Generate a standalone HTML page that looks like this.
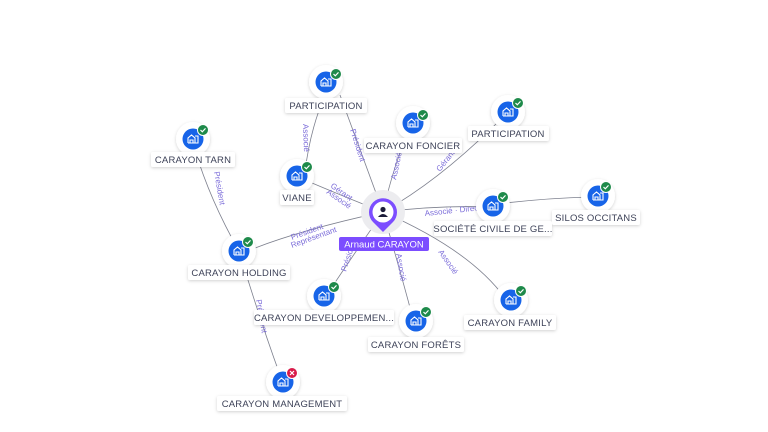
<!DOCTYPE html>
<html><head><meta charset="utf-8"><style>
html,body{margin:0;padding:0;background:#fff;width:768px;height:432px;overflow:hidden}
svg{font-family:"Liberation Sans",sans-serif}
.lbl{font-size:9.5px;fill:#3d4258;letter-spacing:0.2px}
.el{font-size:8px;fill:#7b6cd9}
</style></head><body>
<svg width="768" height="432" viewBox="0 0 768 432" xmlns="http://www.w3.org/2000/svg">
<defs>
<filter id="sh" x="-50%" y="-50%" width="200%" height="200%"><feDropShadow dx="0" dy="1" stdDeviation="1.5" flood-color="#000" flood-opacity="0.18"/></filter>
<g id="node">
<circle r="17" fill="#fff" filter="url(#sh)"/>
<circle r="10.5" fill="#1764e8"/>
<path d="M-5 4 V-1 L-1.5 -4 L2 -1 V4 M-3 4 V1 H0 V4 M2 -3 H5 V4 H-5" stroke="#fff" stroke-width="1.1" fill="none"/>
</g>
<g id="ok"><circle r="5.5" fill="#1e8a4a" stroke="#fff" stroke-width="1"/><path d="M-2.5 0 L-0.7 1.8 L2.5 -1.6" stroke="#fff" stroke-width="1.2" fill="none"/></g>
<g id="ko"><circle r="5.5" fill="#d81b4a" stroke="#fff" stroke-width="1"/><path d="M-2 -2 L2 2 M2 -2 L-2 2" stroke="#fff" stroke-width="1.2"/></g>
</defs>
<g stroke="#7d808e" stroke-width="0.8" fill="none">
<path d="M383 212 Q360 150 340 95"/>
<path d="M383 212 Q395 160 408 135"/>
<path d="M383 212 Q440 180 500 120"/>
<path d="M383 212 Q340 195 305 180"/>
<path d="M383 212 Q440 205 490 207"/>
<path d="M505 203 Q550 198 590 197"/>
<path d="M383 212 Q300 230 250 250"/>
<path d="M383 212 Q350 260 330 290"/>
<path d="M383 212 Q400 270 412 315"/>
<path d="M383 212 Q470 250 505 298"/>
<path d="M305 172 Q310 130 325 95"/>
<path d="M239 251 Q210 200 195 150"/>
<path d="M239 251 Q260 320 280 375"/>
</g>
<g class="el">
<text transform="translate(350,130) rotate(72)">Président</text>
<text transform="translate(303,124) rotate(88)">Associé</text>
<text transform="translate(396,180) rotate(-78)">Associé</text>
<text transform="translate(440,172) rotate(-52)">Gérant</text>
<text transform="translate(330,187) rotate(35)">Gérant</text>
<text transform="translate(326,193) rotate(35)">Associé</text>
<text transform="translate(425,216) rotate(-6)">Associé · Direc</text>
<text transform="translate(292,240) rotate(-20)">Président</text>
<text transform="translate(292,248) rotate(-20)">Représentant</text>
<text transform="translate(346,272) rotate(-72)">Président</text>
<text transform="translate(396,254) rotate(80)">Associé</text>
<text transform="translate(438,252) rotate(55)">Associé</text>
<text transform="translate(214,172) rotate(80)">Président</text>
<text transform="translate(256,300) rotate(80)">Président</text>
</g>
<circle cx="383" cy="212" r="22" fill="#ececef"/>
<path d="M383 232 L373 222 A14 14 0 1 1 393 222 Z" fill="#7c4dff"/>
<circle cx="383" cy="212" r="10.5" fill="#fff"/>
<circle cx="383" cy="209.5" r="2.6" fill="#1c1c3a"/>
<path d="M378 217 Q383 211 388 217 Z" fill="#1c1c3a"/>
<rect x="339" y="237" width="90" height="14" rx="2" fill="#7c4dff"/>
<text x="384" y="247.5" text-anchor="middle" font-size="9.5" fill="#fff">Arnaud CARAYON</text>
<g>
<use href="#node" x="326" y="82"/><use href="#ok" x="336" y="74"/>
<use href="#node" x="193" y="139"/><use href="#ok" x="203" y="130"/>
<use href="#node" x="413" y="123"/><use href="#ok" x="423" y="115"/>
<use href="#node" x="508" y="112"/><use href="#ok" x="518" y="103"/>
<use href="#node" x="297" y="176"/><use href="#ok" x="307" y="167"/>
<use href="#node" x="493" y="206"/><use href="#ok" x="503" y="197"/>
<use href="#node" x="598" y="196"/><use href="#ok" x="606" y="187"/>
<use href="#node" x="239" y="251"/><use href="#ok" x="248" y="242"/>
<use href="#node" x="324" y="296"/><use href="#ok" x="334" y="287"/>
<use href="#node" x="416" y="321"/><use href="#ok" x="426" y="312"/>
<use href="#node" x="511" y="300"/><use href="#ok" x="521" y="291"/>
<use href="#node" x="283" y="382"/><use href="#ko" x="292" y="373"/>
</g>
<g filter="url(#sh)" fill="#fff">
<rect x="285" y="98" width="82" height="15" rx="2"/>
<rect x="151" y="152" width="84" height="15" rx="2"/>
<rect x="364" y="138" width="98" height="15" rx="2"/>
<rect x="468" y="126" width="81" height="15" rx="2"/>
<rect x="280" y="190" width="34" height="15" rx="2"/>
<rect x="434" y="221" width="118" height="15" rx="2"/>
<rect x="552" y="210" width="88" height="15" rx="2"/>
<rect x="188" y="265" width="102" height="15" rx="2"/>
<rect x="254" y="310" width="140" height="15" rx="2"/>
<rect x="368" y="337" width="96" height="15" rx="2"/>
<rect x="464" y="315" width="92" height="15" rx="2"/>
<rect x="217" y="396" width="130" height="15" rx="2"/>
</g>
<g class="lbl" text-anchor="middle">
<text x="326" y="109">PARTICIPATION</text>
<text x="193" y="163">CARAYON TARN</text>
<text x="413" y="149">CARAYON FONCIER</text>
<text x="508" y="137">PARTICIPATION</text>
<text x="297" y="201">VIANE</text>
<text x="493" y="232">SOCIÉTÉ CIVILE DE GE...</text>
<text x="596" y="221">SILOS OCCITANS</text>
<text x="239" y="276">CARAYON HOLDING</text>
<text x="324" y="321">CARAYON DEVELOPPEMEN...</text>
<text x="416" y="348">CARAYON FORÊTS</text>
<text x="510" y="326">CARAYON FAMILY</text>
<text x="282" y="407">CARAYON MANAGEMENT</text>
</g>
</svg>
</body></html>
